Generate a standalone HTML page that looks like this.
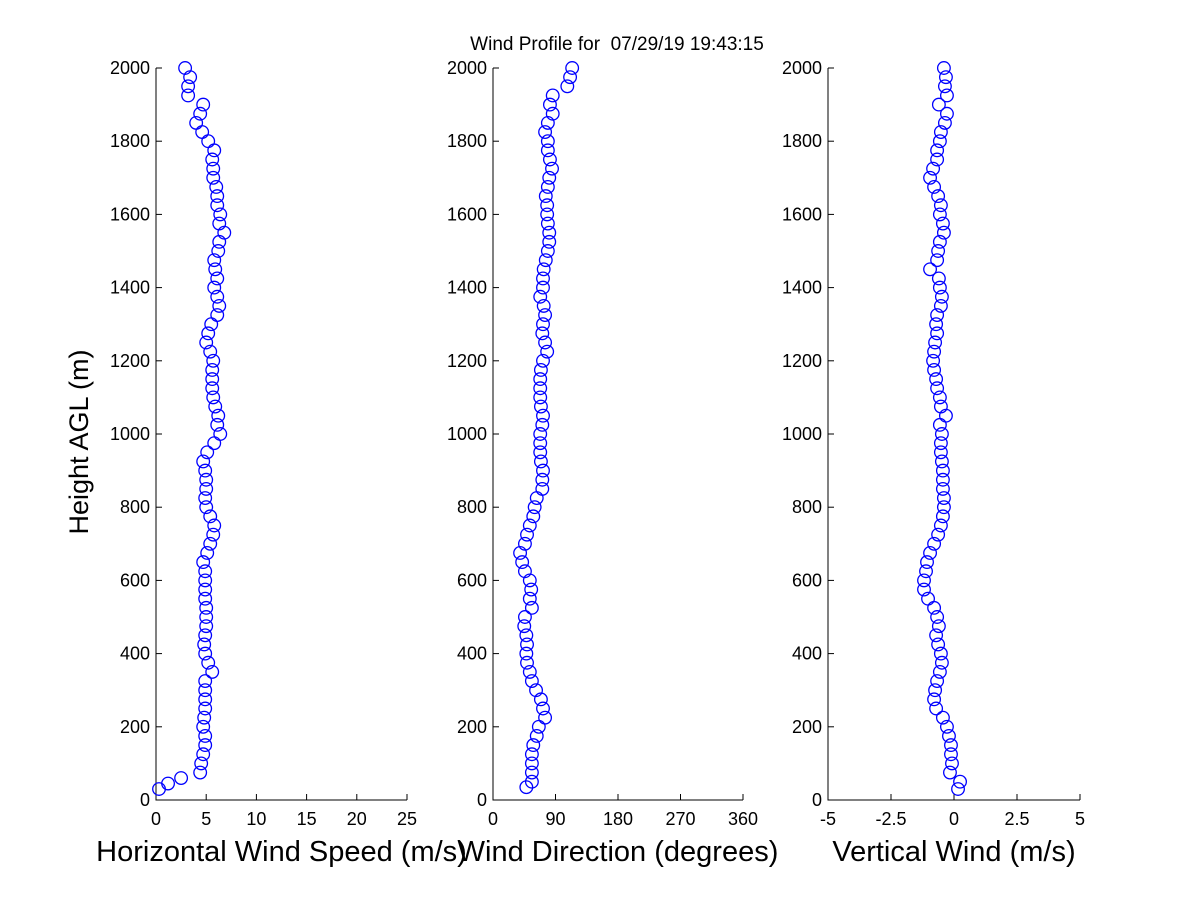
<!DOCTYPE html>
<html><head><meta charset="utf-8"><style>
html,body{margin:0;padding:0;background:#fff;}
svg{display:block;font-family:"Liberation Sans",Arial,sans-serif;}
</style></head><body>
<svg id="chart" width="1200" height="900" viewBox="0 0 1200 900" xmlns="http://www.w3.org/2000/svg">
<rect width="1200" height="900" fill="#fff"/>
<text x="617" y="50" font-size="19" text-anchor="middle" style="white-space:pre">Wind Profile for  07/29/19 19:43:15</text>
<text transform="translate(88,442) rotate(-90)" font-size="27" text-anchor="middle">Height AGL (m)</text>
</svg>
<script>
const speedVals=[2.9,3.4,3.2,3.2,4.7,4.4,4.0,4.6,5.2,5.8,5.6,5.7,5.7,6.0,6.1,6.1,6.4,6.3,6.8,6.3,6.2,5.8,5.9,6.1,5.8,6.1,6.3,6.1,5.5,5.2,5.0,5.4,5.7,5.6,5.6,5.6,5.7,5.9,6.2,6.1,6.4,5.8,5.1,4.7,4.9,5.0,5.0,4.9,5.0,5.4,5.8,5.7,5.4,5.1,4.7,4.9,4.9,4.9,4.9,5.0,5.0,5.0,4.9,4.8,4.9,5.2,5.6,4.9,4.9,4.9,4.9,4.8,4.7,4.9,4.9,4.7,4.5,4.4];
const speedLowHeights=[60,45,30];
const speedLowVals=[2.5,1.2,0.3];
const dirVals=[114,111,107,86,82,86,79,75,79,79,82,85,81,79,76,78,78,79,81,81,79,76,73,72,72,68,73,75,72,71,75,78,72,69,68,68,68,69,72,71,68,68,68,69,72,71,71,63,60,58,53,49,46,39,42,46,53,55,53,56,46,45,48,49,48,49,53,56,62,69,72,75,66,63,58,56,56,56,56];
const dirLowHeights=[35];
const dirLowVals=[48];
const vertVals=[-0.4,-0.32,-0.36,-0.28,-0.6,-0.28,-0.36,-0.52,-0.56,-0.67,-0.67,-0.83,-0.95,-0.79,-0.63,-0.52,-0.56,-0.44,-0.4,-0.56,-0.63,-0.67,-0.95,-0.6,-0.56,-0.48,-0.52,-0.67,-0.71,-0.67,-0.75,-0.79,-0.83,-0.79,-0.71,-0.67,-0.56,-0.52,-0.32,-0.56,-0.48,-0.52,-0.52,-0.48,-0.44,-0.44,-0.44,-0.4,-0.4,-0.44,-0.52,-0.63,-0.79,-0.95,-1.07,-1.11,-1.19,-1.19,-1.03,-0.79,-0.67,-0.6,-0.71,-0.63,-0.52,-0.48,-0.56,-0.67,-0.75,-0.79,-0.71,-0.44,-0.28,-0.2,-0.12,-0.12,-0.08,-0.16,0.24];
const vertLowHeights=[30];
const vertLowVals=[0.16];
const yTicks=[0,200,400,600,800,1000,1200,1400,1600,1800,2000];
const speedTicks=[0,5,10,15,20,25];
const dirTicks=[0,90,180,270,360];
const vertTicks=[-5,-2.5,0,2.5,5];
const vertTickLabels=["-5","-2.5","0","2.5","5"];

const NS="http://www.w3.org/2000/svg";
const svg=document.getElementById('chart');
const yTop=68,yBot=800;
const yScale=h=>yBot-(h/2000)*(yBot-yTop);
function mk(tag,attrs,parent){const e=document.createElementNS(NS,tag);for(const k in attrs)e.setAttribute(k,attrs[k]);(parent||svg).appendChild(e);return e;}

function panel(id,x0,x1,min,max,ticks,labels,title,vals,lowH,lowV){
  const g=mk('g',{});
  
  
  const xs=v=>x0+(v-min)/(max-min)*(x1-x0);
  const ax=mk('path',{d:`M${x0},${yTop}V${yBot}H${x1}`,stroke:'#000','stroke-width':1,fill:'none'},g);
  
  
  yTicks.forEach(t=>{
    const y=yScale(t);
    mk('line',{x1:x0,x2:x0+6,y1:y,y2:y,stroke:'#000'},g);
    const tx=mk('text',{x:x0-6,y:y+6,'font-size':18,'text-anchor':'end'},g);
    tx.textContent=t;
    
    
  });
  ticks.forEach((t,i)=>{
    const x=xs(t);
    mk('line',{x1:x,x2:x,y1:yBot,y2:yBot-6,stroke:'#000'},g);
    const tx=mk('text',{x:x,y:yBot+25,'font-size':18,'text-anchor':'middle'},g);
    tx.textContent=labels?labels[i]:t;
    
    
  });
  const tt=mk('text',{x:(x0+x1)/2,y:861,'font-size':29,'text-anchor':'middle'},g);
  tt.textContent=title;
  
  
  const pts=[];
  vals.forEach((v,i)=>pts.push([2000-25*i,v]));
  lowH.forEach((h,i)=>pts.push([h,lowV[i]]));
  pts.forEach(p=>{
    const c=mk('circle',{cx:xs(p[1]),cy:yScale(p[0]),r:6.3,fill:'none',stroke:'#0000ff','stroke-width':1.3},g);
    
    
  });
}
panel('speed',156,407,0,25,speedTicks,null,'Horizontal Wind Speed (m/s)',speedVals,speedLowHeights,speedLowVals);
panel('direction',493,743,0,360,dirTicks,null,'Wind Direction (degrees)',dirVals,dirLowHeights,dirLowVals);
panel('vertical',828,1080,-5,5,vertTicks,vertTickLabels,'Vertical Wind (m/s)',vertVals,vertLowHeights,vertLowVals);
</script>
</body></html>
